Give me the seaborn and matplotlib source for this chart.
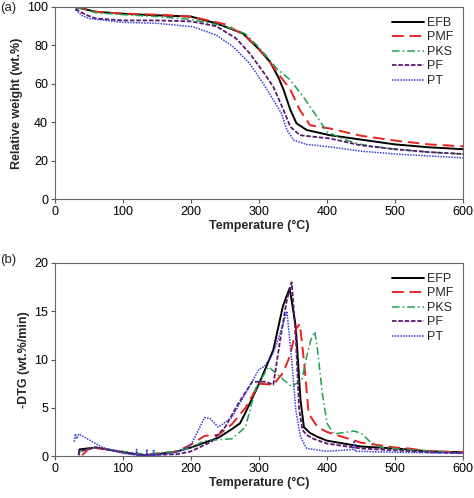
import pandas as pd
import seaborn as sns
import matplotlib.pyplot as plt

# ---- TG data (relative weight, wt.%) ----
efb_t = [30, 60, 100, 140, 200, 237, 276, 301, 316, 328, 336, 346, 355, 370, 404, 450, 500, 550, 600]
efb_w = [100, 97.5, 96.5, 95.8, 95, 91.5, 86.3, 77.6, 71.5, 63.7, 57, 46.5, 39.5, 36, 33.3, 31, 28.5, 27, 26]
pmf_t = [30, 60, 100, 150, 200, 250, 280, 311, 326, 346, 360, 375, 390, 404, 450, 500, 550, 600]
pmf_w = [100, 97.5, 96.5, 96, 95, 91, 85, 74, 66.3, 57, 46.4, 38.5, 37.5, 36.8, 33, 30.5, 28.5, 27.5]
pks_t = [30, 60, 100, 150, 200, 250, 280, 300, 326, 346, 365, 385, 400, 430, 450, 500, 550, 600]
pks_w = [100, 97, 96, 95, 93.5, 90, 86, 79, 68, 62, 53.3, 43, 35, 30.5, 28.5, 26, 24.5, 23.5]
pf_t = [30, 45, 60, 100, 150, 200, 237, 266, 286, 306, 321, 336, 346, 360, 380, 404, 450, 500, 550, 600]
pf_w = [99, 96, 94, 93, 93, 92.5, 90, 83.7, 76, 66.3, 58.5, 46.4, 37.7, 33.3, 32.5, 31.6, 28, 26, 24.5, 23.5]
pt_t = [30, 40, 50, 100, 150, 203, 237, 262, 286, 306, 321, 333, 341, 351, 370, 404, 450, 500, 550, 600]
pt_w = [98.5, 95.5, 94, 92, 91.5, 89.7, 85.4, 79.3, 70.7, 60.3, 51.6, 44.6, 36, 30.7, 28.5, 27.2, 25, 23.5, 22.5, 21.5]

# ---- DTG data (-DTG, wt.%/min) ----
efp_dt = [35, 36, 60, 100, 130, 150, 180, 200, 220, 240, 260, 272, 280, 300, 321, 335, 345, 354, 361, 366, 375, 386, 400, 450, 500, 550, 600]
efp_dv = [0.2, 0.7, 0.9, 0.4, 0.1, 0.2, 0.5, 0.9, 1.4, 1.9, 2.8, 3.4, 4.5, 7.5, 11, 15.5, 17.4, 13.4, 5.8, 3.0, 2.4, 2.0, 1.6, 1.0, 0.8, 0.5, 0.4]
pmf_dt = [40, 50, 70, 100, 130, 180, 200, 220, 240, 260, 280, 300, 321, 335, 345, 355, 360, 366, 373, 386, 400, 450, 500, 520, 550, 600]
pmf_dv = [0.1, 0.8, 0.8, 0.4, 0.1, 0.5, 1.2, 2.1, 2.2, 3.3, 5, 7.5, 7.4, 8.6, 10.3, 13.2, 13.7, 9.9, 4.4, 3.0, 2.5, 1.4, 0.9, 0.8, 0.5, 0.4]
pks_dt = [35, 36, 60, 100, 130, 180, 200, 220, 240, 260, 280, 295, 314, 331, 348, 363, 370, 376, 382, 386, 393, 400, 410, 439, 450, 463, 480, 500, 550, 600]
pks_dv = [0.1, 0.5, 0.9, 0.5, 0.2, 0.5, 0.9, 1.6, 1.7, 1.8, 3, 7, 9.25, 8.2, 7.2, 7.9, 10.3, 12, 12.9, 11, 6.5, 3.4, 2.3, 2.6, 2.4, 1.5, 0.9, 0.8, 0.5, 0.3]
pf_dt = [35, 36, 60, 100, 130, 180, 200, 230, 250, 270, 290, 310, 321, 331, 341, 348, 354, 359, 364, 370, 380, 400, 450, 500, 550, 600]
pf_dv = [0.1, 0.5, 0.9, 0.4, 0.1, 0.2, 0.5, 1.5, 3.0, 5.5, 7.7, 7.7, 7.4, 12, 16.2, 18, 12.4, 4.8, 2.7, 2.2, 1.8, 1.3, 0.8, 0.6, 0.4, 0.3]
pt_dt = [28, 30, 32, 35, 50, 70, 100, 119, 120, 121, 134, 135, 136, 144, 145, 146, 150, 180, 200, 213, 220, 228, 240, 260, 280, 300, 308, 320, 330, 341, 348, 354, 361, 370, 400, 439, 440, 441, 450, 500, 600]
pt_dv = [1.5, 2.3, 1.8, 2.3, 1.7, 0.9, 0.3, 0.1, 0.7, 0.1, 0.1, 0.7, 0.1, 0.1, 0.7, 0.1, 0.1, 0.4, 1.2, 3.0, 4.0, 3.9, 3.0, 4.0, 6.5, 9.0, 9.3, 10.5, 12.5, 15.0, 10, 4.8, 2.0, 0.8, 0.5, 0.7, 1.6, 0.5, 0.5, 0.4, 0.3]

sns.set_style("white")
plt.rcParams['font.family'] = ['Liberation Sans', 'DejaVu Sans']

styles = {
    "EFB": dict(color="black", linestyle="-", linewidth=1.4),
    "PMF": dict(color="#e8231f", linestyle=(0, (6, 3)), linewidth=1.4),
    "PKS": dict(color="#20a050", linestyle=(0, (5, 2, 1, 2)), linewidth=1.1),
    "PF": dict(color="#5a1a70", linestyle=(0, (2.5, 1)), linewidth=1.3),
    "PT": dict(color="#3b3bd8", linestyle=(0, (1, 0.8)), linewidth=1.1),
}

fig = plt.figure(figsize=(4.74, 4.98), dpi=100)
ax1 = fig.add_axes([0.116, 0.600, 0.861, 0.386])
ax2 = fig.add_axes([0.116, 0.084, 0.861, 0.388])

tg = [("EFB", efb_t, efb_w), ("PMF", pmf_t, pmf_w), ("PKS", pks_t, pks_w),
      ("PF", pf_t, pf_w), ("PT", pt_t, pt_w)]
for name, t, w in tg:
    sns.lineplot(x=t, y=w, ax=ax1, label=name, **styles[name])

dtg = [("EFP", "EFB", efp_dt, efp_dv), ("PMF", "PMF", pmf_dt, pmf_dv),
       ("PKS", "PKS", pks_dt, pks_dv), ("PF", "PF", pf_dt, pf_dv),
       ("PT", "PT", pt_dt, pt_dv)]
for name, key, t, v in dtg:
    sns.lineplot(x=t, y=v, ax=ax2, label=name, sort=False, **styles[key])

for ax, ylim, yticks, ylab in [(ax1, (0, 100), range(0, 101, 20), "Relative weight (wt.%)"),
                               (ax2, (0, 20), range(0, 21, 5), "-DTG (wt.%/min)")]:
    ax.set_xlim(0, 600)
    ax.set_ylim(*ylim)
    ax.set_xticks(range(0, 601, 100))
    ax.set_yticks(list(yticks))
    ax.tick_params(axis="both", direction="out", length=3, width=0.8,
                   labelsize=9, colors="#555555", labelcolor="black", pad=2,
                   bottom=True, left=True)
    for s in ax.spines.values():
        s.set_color("#666666")
        s.set_linewidth(0.8)
    ax.set_xlabel("Temperature (°C)", fontsize=9, fontweight="bold", labelpad=1)
    ax.set_ylabel(ylab, fontsize=9, fontweight="bold", labelpad=3)
    ax.legend(loc="upper right", frameon=False, fontsize=9, handlelength=2.6,
              handletextpad=0.2, labelspacing=0.2, borderaxespad=0.4)

fig.text(0.0, 0.984, "(a)", fontsize=9.5, va="center")
fig.text(0.0, 0.478, "(b)", fontsize=9.5, va="center")

plt.savefig("out.png", dpi=100)
